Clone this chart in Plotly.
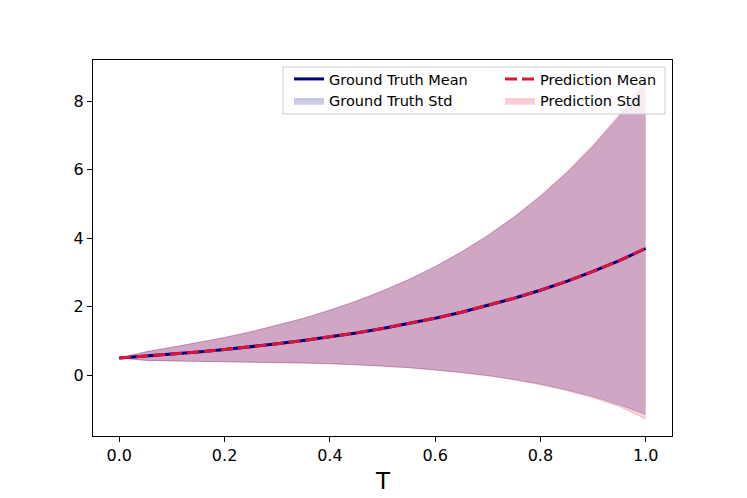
import plotly.graph_objects as go

# ---- data ----
T = [0.0, 0.05, 0.1, 0.15, 0.2, 0.25, 0.3, 0.35, 0.4, 0.45, 0.5,
     0.55, 0.6, 0.65, 0.7, 0.75, 0.8, 0.85, 0.9, 0.95, 1.0]
gt_mean = [0.500, 0.553, 0.611, 0.675, 0.746, 0.824, 0.911, 1.007, 1.113, 1.230, 1.359,
           1.502, 1.660, 1.835, 2.028, 2.241, 2.477, 2.737, 3.025, 3.343, 3.695]
gt_std = [0.000, 0.125, 0.198, 0.272, 0.351, 0.439, 0.539, 0.652, 0.781, 0.927, 1.095,
          1.286, 1.505, 1.756, 2.042, 2.368, 2.742, 3.168, 3.655, 4.210, 4.844]
pred_mean = [0.500, 0.553, 0.612, 0.675, 0.746, 0.825, 0.911, 1.007, 1.113, 1.231, 1.360,
             1.503, 1.661, 1.836, 2.029, 2.242, 2.478, 2.738, 3.026, 3.344, 3.697]
pred_std = [0.000, 0.126, 0.199, 0.273, 0.352, 0.440, 0.540, 0.654, 0.783, 0.930, 1.098,
            1.290, 1.511, 1.763, 2.052, 2.381, 2.760, 3.195, 3.690, 4.265, 4.980]
x_ticks = [0.0, 0.2, 0.4, 0.6, 0.8, 1.0]
y_ticks = [0, 2, 4, 6, 8]
x_label = "T"

GT_COL = "navy"
PR_COL = "crimson"
GT_FILL = "rgba(0,0,128,0.2)"
PR_FILL = "rgba(220,20,60,0.2)"
FONT = "DejaVu Sans"

gt_lo = [m - s for m, s in zip(gt_mean, gt_std)]
gt_hi = [m + s for m, s in zip(gt_mean, gt_std)]
pr_lo = [m - s for m, s in zip(pred_mean, pred_std)]
pr_hi = [m + s for m, s in zip(pred_mean, pred_std)]

fig = go.Figure()

# Ground truth std band
fig.add_trace(go.Scatter(x=T, y=gt_lo, mode="lines", line=dict(color=GT_FILL, width=1),
                         showlegend=False, hoverinfo="skip"))
fig.add_trace(go.Scatter(x=T, y=gt_hi, mode="lines", line=dict(color=GT_FILL, width=1),
                         fill="tonexty", fillcolor=GT_FILL, name="Ground Truth Std",
                         legend="legend", legendrank=2))
# Prediction std band
fig.add_trace(go.Scatter(x=T, y=pr_lo, mode="lines", line=dict(color=PR_FILL, width=1),
                         showlegend=False, hoverinfo="skip"))
fig.add_trace(go.Scatter(x=T, y=pr_hi, mode="lines", line=dict(color=PR_FILL, width=1),
                         fill="tonexty", fillcolor=PR_FILL, name="Prediction Std",
                         legend="legend2", legendrank=2))
# Means
fig.add_trace(go.Scatter(x=T, y=gt_mean, mode="lines", line=dict(color=GT_COL, width=3),
                         name="Ground Truth Mean", legend="legend", legendrank=1))
fig.add_trace(go.Scatter(x=T, y=pred_mean, mode="lines",
                         line=dict(color=PR_COL, width=3, dash="12px,5px"),
                         name="Prediction Mean", legend="legend2", legendrank=1))

# page has an 8px body margin; target coordinates are in screen pixels
OFF = 8
W, H = 731, 490
L, TOP = 93 - OFF, 60 - OFF
pw, ph = 579, 376
R = W - L - pw
B = H - TOP - ph

def px(xs):
    return (xs - 93) / pw

def py(ys):
    return 1 - (ys - 60) / ph

# legend frame
fig.add_shape(type="rect", xref="paper", yref="paper",
              x0=px(283), x1=px(665), y0=py(114), y1=py(67),
              fillcolor="rgba(255,255,255,0.8)", line=dict(color="#cccccc", width=1),
              layer="above")

# x-axis label
fig.add_annotation(text=x_label, xref="paper", yref="paper", x=0.5, y=py(481),
                   xanchor="center", yanchor="middle", showarrow=False,
                   font=dict(family=FONT, size=23, color="black"))

leg_common = dict(bgcolor="rgba(0,0,0,0)", borderwidth=0,
                  font=dict(family=FONT, size=14.5, color="black"),
                  xanchor="left", yanchor="top", tracegroupgap=0, itemwidth=30,
                  traceorder="normal")

axis_common = dict(showline=True, linecolor="black", linewidth=1, mirror=True,
                   ticks="outside", ticklen=5, tickcolor="black", tickwidth=1,
                   showgrid=False, zeroline=False,
                   tickfont=dict(family=FONT, size=16, color="black"))

fig.update_layout(
    width=W, height=H,
    margin=dict(l=L, r=R, t=TOP, b=B),
    paper_bgcolor="white", plot_bgcolor="white",
    font=dict(family=FONT, color="black"),
    xaxis=dict(range=[-0.05, 1.05], tickvals=x_ticks, tickformat=".1f",
               automargin=False, **axis_common),
    yaxis=dict(range=[-1.78, 9.2], tickvals=y_ticks, tickformat="d",
               automargin=False, **axis_common),
    legend=dict(x=px(289), y=py(63), **leg_common),
    legend2=dict(x=px(500), y=py(63), **leg_common),
)

fig.write_html("out.html")
